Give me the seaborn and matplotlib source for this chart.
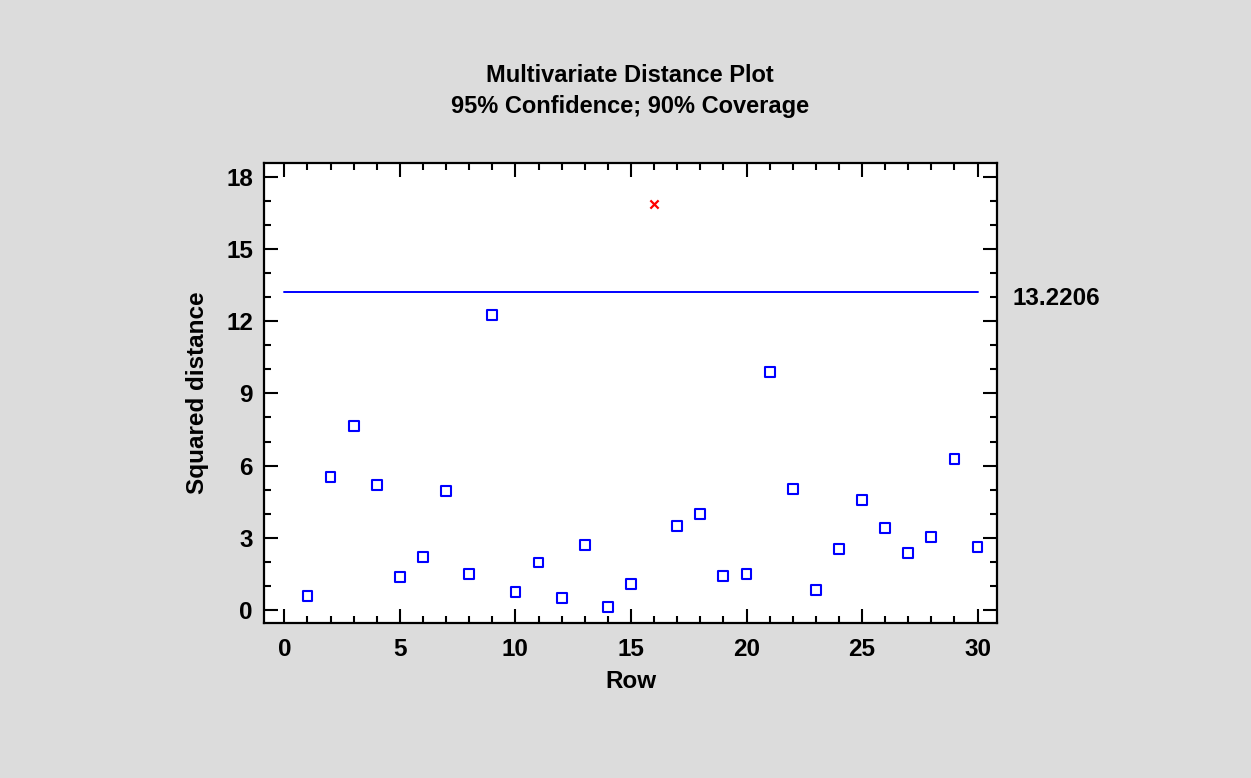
import numpy as np
import pandas as pd
import matplotlib
matplotlib.use("Agg")
import matplotlib.pyplot as plt
import matplotlib.transforms as mtransforms
from matplotlib.ticker import MultipleLocator
import seaborn as sns

# Squared distance per row
rows = list(range(1, 31))
distances = [0.58, 5.51, 7.63, 5.19, 1.38, 2.20, 4.96, 1.48, 12.26, 0.75,
             1.97, 0.51, 2.69, 0.11, 1.07, 16.87, 3.50, 3.99, 1.40, 1.48,
             9.90, 5.04, 0.83, 2.53, 4.56, 3.42, 2.37, 3.02, 6.26, 2.62]
limit = 13.2206

df = pd.DataFrame({"Row": rows, "dist": distances})
df["outlier"] = df["dist"] > limit

sns.set_style("ticks")
plt.rcParams["font.family"] = ["Liberation Sans", "DejaVu Sans"]
plt.rcParams["font.weight"] = "bold"
plt.rcParams["text.color"] = "black"
plt.rcParams["axes.labelcolor"] = "black"
plt.rcParams["xtick.color"] = "black"
plt.rcParams["ytick.color"] = "black"

fig = plt.figure(figsize=(12.51, 7.78), dpi=100, facecolor="#dcdcdc")
ax = fig.add_axes([264 / 1251, 1 - 623 / 778, 733 / 1251, 460 / 778])
ax.set_facecolor("white")

inl = df[~df["outlier"]]
out = df[df["outlier"]]
sns.scatterplot(data=inl, x="Row", y="dist", marker="s", s=50,
                facecolor="none", edgecolor="blue", linewidth=1.5, ax=ax)
sns.scatterplot(data=out, x="Row", y="dist", marker="x", s=35,
                color="red", linewidth=1.6, ax=ax)

ax.plot([0, 30], [limit, limit], color="blue", linewidth=1.4)
trans = mtransforms.blended_transform_factory(ax.transAxes, ax.transData)
ax.text(1.021, limit - 0.3, f"{limit:.4f}", transform=trans, ha="left", va="center",
        fontsize=17.5, fontweight="bold", color="black")

ax.set_xlim(-0.88, 30.84)
ax.set_ylim(-0.54, 18.57)
ax.xaxis.set_major_locator(MultipleLocator(5))
ax.xaxis.set_minor_locator(MultipleLocator(1))
ax.yaxis.set_major_locator(MultipleLocator(3))
ax.yaxis.set_minor_locator(MultipleLocator(1))
ax.tick_params(which="both", direction="in", top=True, right=True,
               color="black", width=1.5)
ax.tick_params(which="major", length=10, labelsize=17.5)
ax.tick_params(axis="x", which="major", pad=11)
ax.tick_params(axis="y", which="major", pad=8)
ax.tick_params(which="minor", length=5)
for lbl in ax.get_xticklabels() + ax.get_yticklabels():
    lbl.set_fontweight("bold")
for sp in ax.spines.values():
    sp.set_linewidth(1.6)
    sp.set_color("black")

ax.set_xlabel("Row", fontsize=17.5, fontweight="bold", labelpad=6)
ax.set_ylabel("Squared distance", fontsize=17.5, fontweight="bold", labelpad=12)

fig.text(630 / 1251, 1 - 75 / 778, "Multivariate Distance Plot",
         ha="center", va="center", fontsize=17, fontweight="bold")
fig.text(630 / 1251, 1 - 106 / 778, "95% Confidence; 90% Coverage",
         ha="center", va="center", fontsize=17, fontweight="bold")

fig.savefig("out.png", dpi=100, facecolor=fig.get_facecolor())
